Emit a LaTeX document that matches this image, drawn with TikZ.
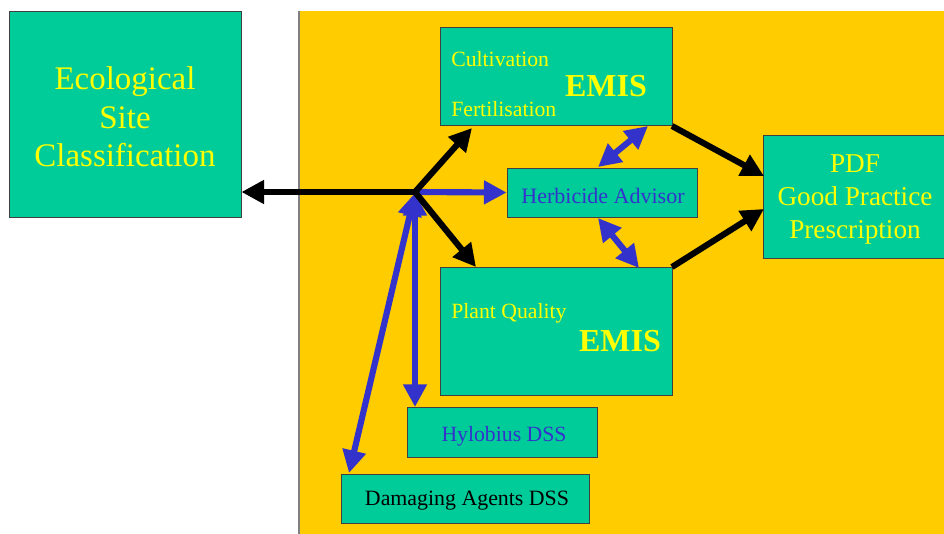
\documentclass[tikz,border=0pt]{standalone}
\usepackage{fontspec}
\setmainfont{Liberation Serif}
\usetikzlibrary{arrows.meta}
\definecolor{boxgreen}{HTML}{00CC99}
\definecolor{bgyellow}{HTML}{FFCC00}
\definecolor{txtyellow}{HTML}{FFFF00}
\definecolor{arrblue}{HTML}{3333CC}
\tikzset{
  box/.style={draw=black!75, line width=0.6pt, fill=boxgreen, inner sep=0pt},
  tip/.style={Triangle[length=17pt,width=17pt]},
  blk/.style={line width=4.6pt, draw=black, -{Triangle[length=17pt,width=17pt]}},
  blu/.style={line width=4.6pt, draw=arrblue, -{Triangle[length=17pt,width=17pt]}},
  blu2/.style={line width=4.6pt, draw=arrblue, {Triangle[length=17pt,width=17pt]}-{Triangle[length=17pt,width=17pt]}},
  ylw/.style={text=txtyellow, inner sep=0pt},
  lbl/.style={inner sep=0pt, align=center},
}
\begin{document}
\begin{tikzpicture}[x=0.75pt,y=-0.75pt]
\useasboundingbox (0,0) rectangle (944,533);
\fill[white] (0,0) rectangle (944,533);
% yellow area
\fill[bgyellow] (299,11) rectangle (950,540);
\draw[gray, line width=0.8pt] (299,11) -- (299,540);
% boxes
\node[box, minimum width=174pt, minimum height=154.5pt] (esc) at (125,114) {};
\node[box, minimum width=174pt, minimum height=73.5pt] (emis1) at (556,76) {};
\node[box, minimum width=142.5pt, minimum height=36.75pt] (herb) at (602,192.5) {};
\node[box, minimum width=174pt, minimum height=96pt] (emis2) at (556,331) {};
\node[box, minimum width=138pt, minimum height=92.25pt] (pdf) at (855,196.5) {};
\node[box, minimum width=142.5pt, minimum height=37.5pt] (hyl) at (502,432) {};
\node[box, minimum width=186pt, minimum height=36.75pt] (dam) at (465,498.5) {};
% labels
\node[lbl, text=txtyellow, font=\fontsize{24.7}{29}\selectfont] (escl) at (125,117) {Ecological\\Site\\Classification};
\node[lbl, text=arrblue, font=\fontsize{16.5}{19}\selectfont] (herbl) at (603,196) {Herbicide Advisor};
\node[lbl, text=txtyellow, font=\fontsize{20.4}{24.75}\selectfont] (pdfl) at (855,199) {PDF\\Good Practice\\Prescription};
\node[lbl, text=arrblue, font=\fontsize{16.3}{19}\selectfont] (hyll) at (504,436) {Hylobius DSS};
\node[lbl, text=black, font=\fontsize{16.4}{19}\selectfont] (daml) at (467,501) {Damaging Agents DSS};
% texts inside EMIS boxes
\node[ylw, anchor=west, font=\fontsize{16.3}{19}\selectfont] (cult) at (451,59) {Cultivation};
\node[ylw, anchor=west, font=\fontsize{16.3}{19}\selectfont] (fert) at (451,109) {Fertilisation};
\node[ylw, font=\bfseries\fontsize{24}{28}\selectfont] (e1) at (606,86) {EMIS};
\node[ylw, anchor=west, font=\fontsize{16.3}{19}\selectfont] (pq) at (451,313) {Plant Quality};
\node[ylw, font=\bfseries\fontsize{24}{28}\selectfont] (e2) at (620,341) {EMIS};
% coordinates
\coordinate (hub) at (415,192);
\coordinate (t1) at (472,128);
\coordinate (t2) at (476,267);
\coordinate (hubb) at (415,193);
\coordinate (hyltop) at (415,407);
\coordinate (damtop) at (349,473);
\coordinate (htop) at (598,167);
\coordinate (e1b) at (648,126);
\coordinate (hbot) at (598,218);
\coordinate (e2t) at (639,268);
\coordinate (e1c) at (672,126);
\coordinate (e2c) at (672,267);
\coordinate (p1) at (764,176);
\coordinate (p2) at (764,209);
% connectors
\draw[blu2] (hyltop) -- (hubb);
\draw[blu2] (damtop) -- (hubb);
\draw[blu] (hub) -- (herb.west);
\draw[blk] (hub) -- (esc.east |- hub);
\draw[blk] (hub) -- (t1);
\draw[blk] (hub) -- (t2);
\draw[blu2] (htop) -- (e1b);
\draw[blu2] (hbot) -- (e2t);
\draw[blk] (e1c) -- (p1);
\draw[blk] (e2c) -- (p2);
\end{tikzpicture}
\end{document}
